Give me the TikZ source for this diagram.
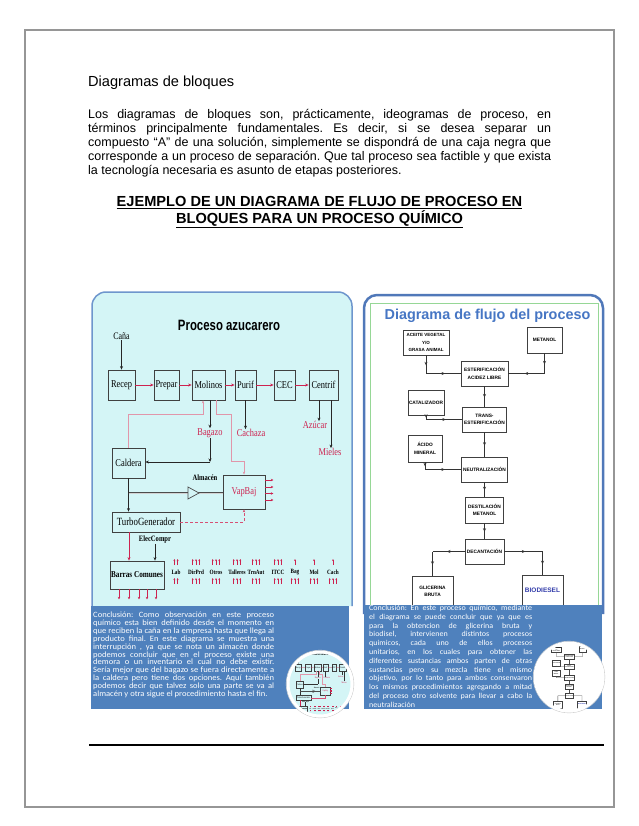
\documentclass[tikz,border=0pt]{standalone}
\usepackage{fontspec}
\setmainfont{Liberation Sans}
\newfontfamily\cond[FakeStretch=0.8]{Liberation Serif}
\newfontfamily\nsans[FakeStretch=0.76]{Liberation Sans}
\newfontfamily\cali[FakeStretch=1.056]{Carlito}
\usetikzlibrary{arrows.meta,decorations.markings}

\definecolor{pagegray}{RGB}{150,150,150}
\definecolor{cyanbg}{RGB}{212,245,246}
\definecolor{lborder}{RGB}{110,150,205}
\definecolor{rborder}{RGB}{80,120,185}
\definecolor{green1}{RGB}{150,215,150}
\definecolor{titblue}{RGB}{70,118,196}
\definecolor{concl}{RGB}{79,129,189}
\definecolor{sred}{RGB}{205,35,80}
\definecolor{pinkline}{RGB}{225,150,170}
\definecolor{biodblue}{RGB}{50,60,170}

\def\jw{100pt}
\newcommand\jl[1]{\makebox[\jw][s]{\spaceskip=0pt\xspaceskip=0pt #1}\\}
\newcommand\nsp{\spaceskip=0pt\xspaceskip=0pt\frenchspacing }

\tikzset{
  lbox/.style={draw=black!75, line width=0.8, fill=cyanbg, inner sep=0, font=\cond\fontsize{10.5}{10.5}\selectfont},
  rline/.style={draw=sred, line width=0.8, -{Stealth[length=3.5,width=3]}},
  rsm/.style={draw=sred, line width=0.7, -{Stealth[length=2.5,width=2.5]}},
  bline/.style={draw=black!85, line width=0.8, -{Stealth[length=3.5,width=3]}},
  pline/.style={draw=pinkline, line width=0.7, -{Stealth[length=3,width=2.5]}},
  dline/.style={draw=black!70, line width=0.5, double=gray!35, double distance=0.7},
  tri/.style={draw=black!70, line width=0.7, fill=cyanbg},
  dashline/.style={draw=sred!80, densely dashed, line width=0.6, -{Stealth[length=3,width=2.5]}},
  rlabel/.style={text=sred, inner sep=0, font=\cond\fontsize{10.5}{10.5}\selectfont},
  blabel/.style={inner sep=0, font=\cond\bfseries\fontsize{8.2}{8.2}\selectfont},
  lablbl/.style={inner sep=0, font=\cond\bfseries\fontsize{6.5}{6.5}\selectfont},
  uparr/.style={draw=sred, line width=0.5, -{Stealth[length=2,width=1.8]}},
  fbox/.style={draw=black!75, line width=0.7, fill=white, inner sep=0, align=center, font=\bfseries\fontsize{4.8}{7.3}\selectfont},
  conn/.style={draw=black!80, line width=0.6, postaction={decorate}, decoration={markings, mark=at position 0.55 with {\arrow{Stealth[length=3.5,width=3]}}}},
  concltext/.style={text=white, inner sep=0, align=left, anchor=base west},
}

\newcommand\leftdiag{%
\node[inner sep=0, font=\nsans\bfseries\fontsize{15}{15}\selectfont] (ltitle) at (229,325.5) {Proceso azucarero};
\node[inner sep=0, font=\cond\fontsize{10}{10}\selectfont] (cana) at (121.5,336.5) {Caña};
\node[lbox, minimum width=27, minimum height=30] (recep) at (121.5,385) {Recep};
\node[lbox, minimum width=25, minimum height=30] (prepar) at (166.5,385) {Prepar};
\node[lbox, minimum width=33, minimum height=30] (molinos) at (208.5,385) {Molinos};
\node[lbox, minimum width=21, minimum height=30] (purif) at (245.5,385) {Purif};
\node[lbox, minimum width=21, minimum height=30] (cec) at (284.5,385) {CEC};
\node[lbox, minimum width=29, minimum height=30] (centrif) at (323.5,385) {Centrif};
\draw[bline] (cana) -- (recep);
\draw[rline] (recep) -- (prepar);
\draw[rline] (prepar) -- (molinos);
\draw[rline] (molinos) -- (purif);
\draw[rline] (purif) -- (cec);
\draw[rline] (cec) -- (centrif);
\node[rlabel] (bag) at (210,433) {Bagazo};
\node[rlabel] (cach) at (251,433) {Cachaza};
\node[rlabel] (azu) at (315,425) {Azúcar};
\node[rlabel] (mie) at (330,452) {Mieles};
\draw[bline] (molinos.south -| bag) -- (bag.north);
\draw[bline] (purif.south) -- (purif.south |- cach.north);
\draw[bline] ([xshift=-4.5]centrif.south) -- ([xshift=-4.5]centrif.south |- azu.north);
\draw[bline] ([xshift=7.5]centrif.south) -- ([xshift=7.5]centrif.south |- mie.north);
\node[lbox, minimum width=33, minimum height=30] (cald) at (128.5,463) {Caldera};
\node[lbox, minimum width=42, minimum height=34, text=sred] (vap) at (244,492) {VapBaj};
\coordinate (fb) at (203,414);
\draw[pline] (cald.north) |- (fb) -- (fb |- molinos.south);
\coordinate (mv1) at (216,414);
\coordinate (mv2) at (231.5,461);
\draw[pline] (mv1 |- molinos.south) -- (mv1) -| (mv2) -| (vap.north);
\coordinate (j1) at (210,462);
\draw[bline] (bag.south) -- (j1);
\draw[bline] (j1) -- (j1 -| cald.east);
\node[blabel] (alm) at (205,478) {Almacén};
\foreach \yy in {12,5,-1.5,-8} \draw[rsm] ([yshift=\yy]vap.east) -- ++(8,0);
\node[lbox, minimum width=68, minimum height=20, font=\cond\fontsize{11}{11}\selectfont] (turbo) at (146,522) {TurboGenerador};
\draw[bline] (cald.south) -- (cald.south |- turbo.north);
\coordinate (br) at (128.5,493);
\draw[dline] (br) -- (br -| vap.west);
\draw[tri] (188,487) -- (199,493) -- (188,499) -- cycle;
\draw[dashline] (turbo.east) -| (vap.south);
\node[blabel] (ec) at (155,540) {ElecCompr};
\node[lbox, minimum width=54, minimum height=28, font=\cond\bfseries\fontsize{9}{9}\selectfont] (barras) at (137,575) {Barras Comunes};
\draw[rline] ([xshift=-17]turbo.south) -- ([xshift=-17]turbo.south |- barras.north);
\draw[bline] (ec.south) -- (ec.south |- barras.north);
\foreach \xx in {-18,-8,2,10,19} \draw[rsm] ([xshift=\xx]barras.south) -- ++(0,10);
\foreach \lt/\lx/\na/\nb [count=\i] in {Lab/176/2/2, DirPrd/196/3/3, Otros/216/3/3, Talleres/237/3/3, TrnAut/256/3/3, ITCC/278/3/3, Bag/295/1/3, Mol/314/1/3, Cach/333/1/3} {
  \node[lablbl] (lab\i) at (\lx,572) {\lt};
  \foreach \k in {1,...,\na} \draw[uparr] ({\lx+(\k-(\na+1)/2)*3.3},565) -- ++(0,-6);
  \foreach \k in {1,...,\nb} \draw[uparr] ({\lx+(\k-(\nb+1)/2)*3.3},584) -- ++(0,-6);
}%
}

\newcommand\rightdiag{%
\node[fbox, minimum width=46, minimum height=25, font=\bfseries\fontsize{4.5}{7.5}\selectfont] (aceite) at (426,342.5) {ACEITE VEGETAL\\Y/O\\GRASA ANIMAL};
\node[fbox, minimum width=35, minimum height=26] (metanol) at (544.5,340) {METANOL};
\node[fbox, minimum width=47, minimum height=25] (ester) at (484.5,373.5) {ESTERIFICACIÓN\\ACIDEZ LIBRE};
\node[fbox, minimum width=36, minimum height=25] (catal) at (426,402.5) {CATALIZADOR};
\node[fbox, minimum width=44, minimum height=25] (trans) at (484.5,419.5) {TRANS-\\ESTERIFICACIÓN};
\node[fbox, minimum width=34, minimum height=27] (acido) at (425,448.5) {ÁCIDO\\MINERAL};
\node[fbox, minimum width=46, minimum height=25] (neutra) at (484.5,469.5) {NEUTRALIZACIÓN};
\node[fbox, minimum width=38, minimum height=26] (destil) at (484.5,510) {DESTILACIÓN\\METANOL};
\node[fbox, minimum width=39, minimum height=25] (decant) at (484.5,551.5) {DECANTACIÓN};
\node[fbox, minimum width=41, minimum height=30] (glic) at (432.5,591) {GLICERINA\\BRUTA};
\node[fbox, minimum width=41, minimum height=31, text=biodblue, font=\bfseries\fontsize{6.5}{7}\selectfont] (biod) at (542.5,590.5) {BIODIESEL};
\coordinate (ra1) at (aceite.south |- ester.west);
\draw[conn] (aceite.south) -- (ra1);
\draw[conn] (ra1) -- (ester.west);
\coordinate (ra2) at (metanol.south |- ester.east);
\draw[conn] (metanol.south) -- (ra2);
\draw[conn] (ra2) -- (ester.east);
\draw[conn] (ester.south) -- (trans.north);
\coordinate (ra3) at (catal.south |- trans.west);
\draw[conn] (catal.south) -- (ra3);
\draw[conn] (ra3) -- (trans.west);
\draw[conn] (trans.south) -- (neutra.north);
\coordinate (ra4) at (acido.south |- neutra.west);
\draw[conn] (acido.south) -- (ra4);
\draw[conn] (ra4) -- (neutra.west);
\draw[conn] (neutra.south) -- (destil.north);
\draw[conn] (destil.south) -- (decant.north);
\coordinate (ra5) at (glic.north |- decant.west);
\draw[conn] (decant.west) -- (ra5);
\draw[conn] (ra5) -- (glic.north);
\coordinate (ra6) at (biod.north |- decant.east);
\draw[conn] (decant.east) -- (ra6);
\draw[conn] (ra6) -- (biod.north);
}

\begin{document}
\frenchspacing
\begin{tikzpicture}[x=1pt,y=-1pt]
\useasboundingbox (0,0) rectangle (638,826);
\fill[white] (0,0) rectangle (638,826);
\draw[pagegray, line width=1.2] (25,30) rectangle (614,807);

% top text
\node[anchor=base west, inner sep=0, font=\fontsize{14.6}{17}\selectfont] (tit) at (88,87) {Diagramas de bloques};
\node[anchor=base west, inner sep=0, text width=463, align=left, font=\fontsize{12.5}{14.1}\selectfont] (para) at (88,118.5) {\def\jw{463pt}\nsp
\jl{Los diagramas de bloques son, prácticamente, ideogramas de proceso, en}
\jl{términos principalmente fundamentales. Es decir, si se desea separar un}
\jl{compuesto “A” de una solución, simplemente se dispondrá de una caja negra que}
\jl{corresponde a un proceso de separación. Que tal proceso sea factible y que exista}
la tecnología necesaria es asunto de etapas posteriores.};
\node[anchor=base, inner sep=0, font=\bfseries\fontsize{14.6}{16}\selectfont] (hd1) at (319.5,207) {\underline{EJEMPLO DE UN DIAGRAMA DE FLUJO DE PROCESO EN}};
\node[anchor=base, inner sep=0, font=\bfseries\fontsize{14.6}{16}\selectfont] (hd2) at (319.5,223) {\underline{BLOQUES PARA UN PROCESO QUÍMICO}};

% left panel
\filldraw[draw=lborder, line width=1.5, fill=cyanbg, rounded corners=14] (92,606) -- (92,292) -- (352,292) -- (352,606);
\leftdiag

% right panel
\filldraw[draw=rborder, line width=2.5, fill=white, rounded corners=13] (364,614) -- (364,295) -- (603,295) -- (603,614);
\draw[green1, line width=0.8] (370,303) rectangle (598,607);
\node[font=\bfseries\fontsize{14.4}{14.4}\selectfont, text=titblue, inner sep=0] (rtitle) at (487.5,316) {Diagrama de flujo del proceso};
\rightdiag

% left conclusion
\fill[concl] (91,606) rectangle (349,709);
\node[concltext, text width=181, font=\cali\fontsize{8.1}{7.9}\selectfont] (ltext) at (93,617.5) {\def\jw{181pt}\nsp
\jl{Conclusión: Como observación en este proceso}
\jl{químico  esta bien definido desde el momento en}
\jl{que reciben la caña en la empresa hasta que llega al}
\jl{producto final. En este diagrama se muestra una}
\jl{interrupción , ya que se nota un almacén donde}
\jl{podemos concluir que en el proceso existe una}
\jl{demora o un inventario el cual no debe existir.}
\jl{Sería mejor que del bagazo se fuera directamente a}
\jl{la caldera pero tiene dos opciones. Aquí también}
\jl{podemos decir que talvez solo una parte se va al}
almacén y otra sigue el procedimiento hasta el fin.};
\begin{scope}
\clip (320,684) circle (32);
\fill[cyanbg] (320,684) circle (32);
\begin{scope}[shift={(271.5,582.8)}, scale=0.22, transform shape, name prefix=ml-,
  lbox/.append style={line width=0.3},
  rline/.style={draw=sred, line width=0.3},
  rsm/.style={draw=sred, line width=0.3},
  bline/.style={draw=black!80, line width=0.3},
  pline/.style={draw=pinkline, line width=0.3},
  dline/.style={draw=black!70, line width=0.3},
  tri/.style={draw=black!70, line width=0.3},
  dashline/.style={draw=sred!80, line width=0.3},
  uparr/.style={draw=sred, line width=0.25}]
\leftdiag
\end{scope}
\end{scope}
\draw[black!20, line width=0.6] (320,684) circle (33.8);
\draw[white, line width=3] (320,684) circle (32);

% right conclusion
\fill[concl] (364,605) rectangle (602,709);
\node[concltext, text width=163, font=\cali\fontsize{7.6}{8.8}\selectfont] (rtext) at (369,610.5) {\def\jw{163pt}\nsp
\jl{Conclusión: En este proceso químico, mediante}
\jl{el diagrama se puede concluir que ya que es}
\jl{para la obtencion de glicerina bruta y}
\jl{biodisel, intervienen distintos procesos}
\jl{quimicos, cada uno de ellos procesos}
\jl{unitarios, en los cuales para obtener las}
\jl{diferentes sustancias ambos parten de otras}
\jl{sustancias pero su mezcla tiene el mismo}
\jl{objetivo, por lo tanto para ambos consenvaron}
\jl{los mismos procedimientos agregando a mitad}
\jl{del proceso otro solvente para llevar a cabo la}
neutralización};
\begin{scope}
\clip (569,677) circle (34);
\fill[white] (569,677) circle (34);
\begin{scope}[shift={(462.7,574.5)}, scale=0.22, transform shape, name prefix=mr-,
  fbox/.append style={line width=0.3},
  conn/.style={draw=black!70, line width=0.3}]
\rightdiag
\end{scope}
\end{scope}
\draw[black!20, line width=0.6] (569,677) circle (35.8);
\draw[white, line width=3] (569,677) circle (34);

% bottom rule
\draw[line width=1.4] (89,745) -- (604,745);
\end{tikzpicture}
\end{document}
